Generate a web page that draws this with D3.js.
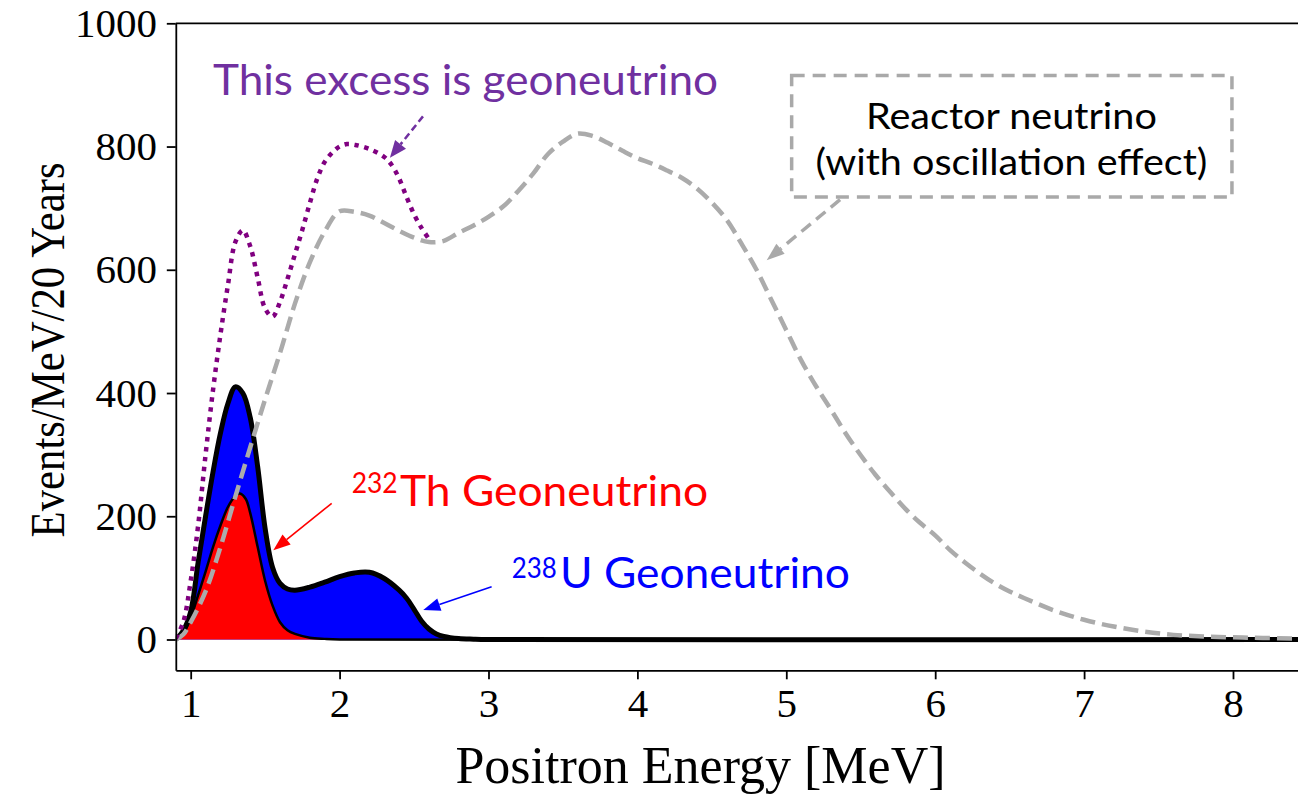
<!DOCTYPE html>
<html>
<head>
<meta charset="utf-8">
<script src="https://cdn.jsdelivr.net/npm/d3@7"></script>
<style>
  body { margin: 0; background: #fff; }
  svg { display: block; }
</style>
</head>
<body>
<svg id="chart" width="1298" height="797"></svg>
<script>
// reactor antineutrino spectrum (with oscillation)
const reactorE = [0.9, 0.95, 1.0, 1.1, 1.2, 1.3, 1.4, 1.5, 1.6, 1.7, 1.8, 1.9, 2.0, 2.1, 2.2, 2.3, 2.4, 2.5, 2.6, 2.7,
  2.8, 2.9, 3.0, 3.1, 3.2, 3.3, 3.4, 3.5, 3.6, 3.7, 3.8, 3.9, 4.0, 4.1, 4.2, 4.3, 4.4, 4.5, 4.6, 4.7,
  4.8, 4.9, 5.0, 5.1, 5.2, 5.3, 5.4, 5.5, 5.6, 5.7, 5.8, 5.9, 6.0, 6.1, 6.2, 6.3, 6.4, 6.5, 6.6, 6.8,
  7.0, 7.2, 7.4, 7.6, 7.8, 8.0, 8.2, 8.45]
const reactorV = [0, 8, 28, 78, 150, 232, 312, 390, 465, 545, 612, 662, 695, 694, 688, 676, 663, 652, 645, 647,
  660, 672, 686, 703, 728, 756, 788, 808, 821, 817, 806, 793, 781, 772, 761, 749, 732, 709, 681, 642,
  600, 551, 502, 453, 411, 373, 334, 299, 267, 239, 212, 189, 169, 145, 125, 107, 91, 78, 67, 47,
  32, 21, 13, 7.5, 5, 3.5, 2.5, 1.5]

// reactor + geoneutrino (dotted purple)
const excessE = [0.9, 0.95, 1.0, 1.05, 1.1, 1.15, 1.2, 1.25, 1.3, 1.35, 1.4, 1.45, 1.5, 1.55, 1.6, 1.65, 1.7,
  1.75, 1.8, 1.85, 1.9, 1.95, 2.0, 2.05, 2.1, 2.2, 2.3, 2.35, 2.4, 2.45, 2.5, 2.55, 2.6]
const excessV = [2, 28, 95, 185, 300, 405, 495, 575, 645, 664, 638, 587, 537, 524, 548, 585, 625,
  665, 708, 748, 775, 790, 800, 804, 803, 796, 783, 770, 748, 718, 690, 668, 650]

// U + Th geoneutrino (blue fill, thick black)
const geoE = [0.9, 0.95, 1.0, 1.05, 1.1, 1.15, 1.2, 1.25, 1.3, 1.35, 1.4, 1.45, 1.5, 1.55, 1.6, 1.65, 1.7,
  1.8, 1.9, 2.0, 2.1, 2.2, 2.3, 2.4, 2.45, 2.5, 2.55, 2.6, 2.65, 2.7, 2.8, 2.9, 3.0, 8.45]
const geoV = [0, 14, 45, 125, 200, 272, 335, 383, 410, 400, 360, 280, 180, 117, 91, 82, 80,
  85, 93, 102, 108, 109, 99, 80, 67, 49, 30, 17, 9, 5, 1.5, 0.5, 0, 0]

// Th geoneutrino (red fill)
const thE = [0.9, 0.95, 1.0, 1.05, 1.1, 1.15, 1.2, 1.25, 1.3, 1.33, 1.37, 1.4, 1.45, 1.5, 1.55, 1.6, 1.65,
  1.7, 1.8, 1.9, 2.0, 8.45]
const thV = [0, 10, 35, 72, 110, 150, 185, 215, 233, 237, 228, 205, 150, 95, 55, 28, 15,
  9, 3, 1, 0, 0]

const xTicks = [1, 2, 3, 4, 5, 6, 7, 8]
const yTicks = [0, 200, 400, 600, 800, 1000]

const svg = d3.select("#chart")
const serif = "'Liberation Serif', 'Times New Roman', serif"
const sans = "Lato, 'Open Sans', sans-serif"

const x = d3.scaleLinear().domain([0.9, 8.45]).range([175.8, 1300])
const y = d3.scaleLinear().domain([-50, 1000]).range([670.3, 23.3])

const zip = (es, vs) => es.map((e, i) => [e, vs[i]])
const reactor = zip(reactorE, reactorV)
const excess = zip(excessE, excessV)
const geo = zip(geoE, geoV)
const th = zip(thE, thV)

svg.append("defs").append("clipPath").attr("id", "clip")
    .append("rect")
    .attr("x", x(0.9)).attr("y", y(1000))
    .attr("width", x(8.45) - x(0.9)).attr("height", y(-50) - y(1000))

const curve = d3.curveCatmullRom.alpha(0.5)
const area = d3.area()
    .x(d => x(d[0])).y0(y(0)).y1(d => y(d[1]))
    .curve(curve)
const line = d3.line()
    .x(d => x(d[0])).y(d => y(d[1]))
    .curve(curve)

const plot = svg.append("g").attr("clip-path", "url(#clip)")

plot.append("path").datum(geo).attr("d", area).attr("fill", "#0000ff")
plot.append("path").datum(th).attr("d", area).attr("fill", "#ff0000")
plot.append("path").datum(th).attr("d", line)
    .attr("fill", "none").attr("stroke", "#000").attr("stroke-width", 2.5)
plot.append("path").datum(geo).attr("d", line)
    .attr("fill", "none").attr("stroke", "#000").attr("stroke-width", 5)

plot.append("path").datum(reactor).attr("d", line)
    .attr("fill", "none").attr("stroke", "#ababab").attr("stroke-width", 4.5)
    .attr("stroke-dasharray", "15,7")
plot.append("path").datum(excess).attr("d", line)
    .attr("fill", "none").attr("stroke", "#800080").attr("stroke-width", 4.5)
    .attr("stroke-dasharray", "4.5,5.5")

// axes
const xAxis = svg.append("g")
    .attr("transform", `translate(0,${y(-50)})`)
    .call(d3.axisBottom(x).tickValues(xTicks).tickSize(9).tickSizeOuter(0).tickPadding(9)
        .tickFormat(d3.format("d")))
const yAxis = svg.append("g")
    .attr("transform", `translate(${x(0.9)},0)`)
    .call(d3.axisLeft(y).tickValues(yTicks).tickSize(9).tickSizeOuter(0).tickPadding(9.8)
        .tickFormat(d3.format("d")))

;[xAxis, yAxis].forEach(g => {
    g.selectAll("path, line").attr("stroke", "#000").attr("stroke-width", 1.8)
    g.selectAll("text").attr("fill", "#000")
        .style("font-family", serif).style("font-size", "41px")
})

// top spine
svg.append("line")
    .attr("x1", x(0.9)).attr("x2", x(8.45))
    .attr("y1", y(1000)).attr("y2", y(1000))
    .attr("stroke", "#000").attr("stroke-width", 1.8)

svg.append("text")
    .attr("x", 700.5).attr("y", 783)
    .attr("text-anchor", "middle")
    .style("font-family", serif).style("font-size", "52px")
    .text("Positron Energy [MeV]")

svg.append("text")
    .attr("transform", `translate(64,${y(470)}) rotate(-90)`)
    .attr("text-anchor", "middle")
    .attr("textLength", 375).attr("lengthAdjust", "spacingAndGlyphs")
    .style("font-family", serif).style("font-size", "49px")
    .text("Events/MeV/20 Years")

// annotations (positions in data units)
function arrow(from, to, color, width, dash, headLen, headWid) {
    const x1 = x(from[0]), y1 = y(from[1]), x2 = x(to[0]), y2 = y(to[1])
    const dx = x2 - x1, dy = y2 - y1, len = Math.hypot(dx, dy)
    const ux = dx / len, uy = dy / len
    const bx = x2 - ux * headLen, by = y2 - uy * headLen
    svg.append("line")
        .attr("x1", x1).attr("y1", y1).attr("x2", bx).attr("y2", by)
        .attr("stroke", color).attr("stroke-width", width)
        .attr("stroke-dasharray", dash)
    svg.append("polygon")
        .attr("points", [
            [x2, y2],
            [bx - uy * headWid / 2, by + ux * headWid / 2],
            [bx + uy * headWid / 2, by - ux * headWid / 2]
        ].map(p => p.join(",")).join(" "))
        .attr("fill", color)
}

function label(e, v, txt, color, size, len, anchor) {
    return svg.append("text")
        .attr("x", x(e)).attr("y", y(v))
        .attr("text-anchor", anchor || "start")
        .attr("textLength", len).attr("lengthAdjust", "spacingAndGlyphs")
        .attr("fill", color)
        .style("font-family", sans).style("font-size", size + "px")
        .text(txt)
}

// excess
label(1.150, 884, "This excess is geoneutrino", "#7030a0", 42, 505)
arrow([2.560, 849], [2.338, 782], "#7030a0", 2.5, "7,4", 17, 14)

// reactor box
svg.append("rect")
    .attr("x", x(5.036)).attr("y", y(915.4))
    .attr("width", x(7.993) - x(5.036)).attr("height", y(718) - y(915.4))
    .attr("fill", "none").attr("stroke", "#a9a9a9").attr("stroke-width", 3.5)
    .attr("stroke-dasharray", "13,8")
label(6.512, 829, "Reactor neutrino", "#000", 36, 291, "middle")
label(6.512, 753, "(with oscillation effect)", "#000", 36, 392, "middle")
arrow([5.361, 713.8], [4.868, 615.4], "#a9a9a9", 3.5, "12,7", 18, 13)

// Th
label(2.081, 237, "232", "#ff0000", 28, 46)
label(2.406, 216.5, "Th Geoneutrino", "#ff0000", 42, 308)
arrow([1.947, 221], [1.555, 145], "#ff0000", 1.6, null, 17, 13)

// U
label(3.156, 99, "238", "#0000ff", 28, 45)
label(3.48, 83, "U Geoneutrino", "#0000ff", 42, 290)
arrow([3.021, 85.6], [2.562, 47.8], "#0000ff", 1.6, null, 17, 13)
</script>
</body>
</html>
